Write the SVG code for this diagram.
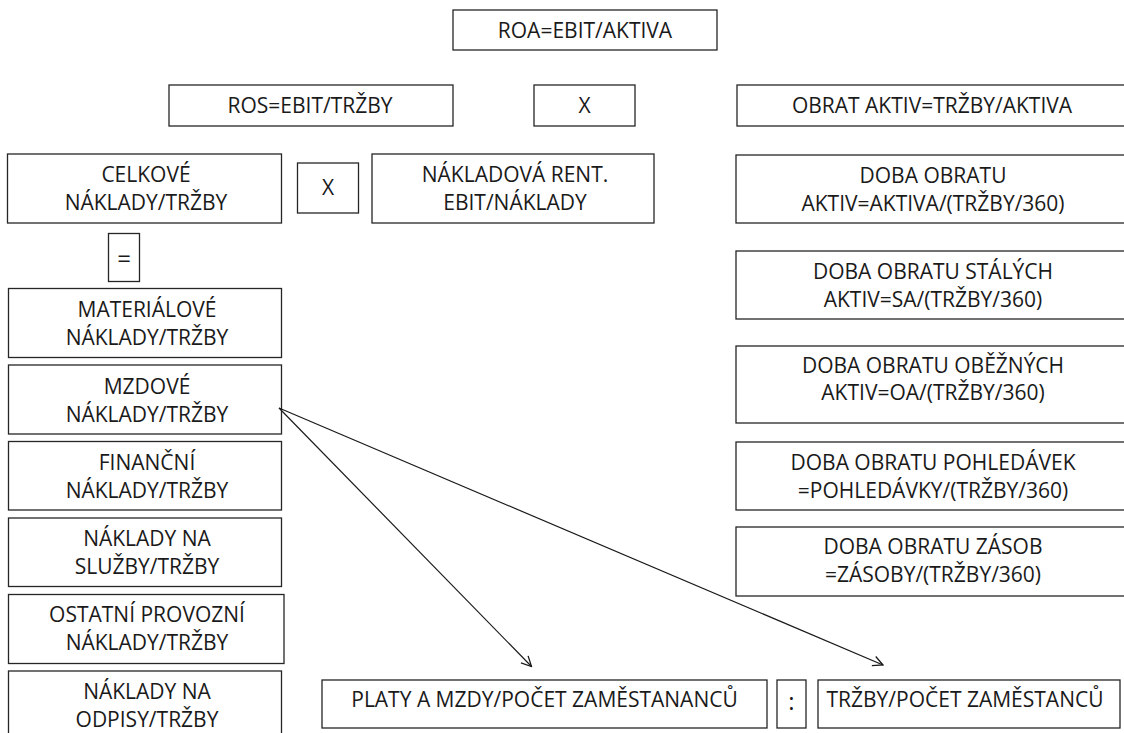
<svg xmlns="http://www.w3.org/2000/svg" width="1124" height="733" viewBox="0 0 1124 733">
<style>
rect{fill:#fff;stroke:#262626;stroke-width:1.3}
text{font-family:"Open Sans","Noto Sans","Liberation Sans",sans-serif;font-size:21px;fill:#1a1a1a;text-anchor:middle}
.c line{stroke:#1a1a1a;stroke-width:1.2}
</style>
<defs>
<marker id="ah" viewBox="0 0 12 12" refX="11" refY="6" markerWidth="12" markerHeight="12" markerUnits="userSpaceOnUse" orient="auto">
<path d="M1,1 L11,6 L1,11" fill="none" stroke="#1a1a1a" stroke-width="1.3"/>
</marker>
</defs>
<rect width="1124" height="733" style="fill:#fff;stroke:none"/>
<g id="roa"><rect x="453" y="10" width="264" height="40"/><text x="585" y="38">ROA=EBIT/AKTIVA</text></g>
<g id="ros"><rect x="169" y="85" width="284" height="41"/><text x="310" y="113">ROS=EBIT/TRŽBY</text></g>
<g id="x1"><rect x="534" y="85" width="101" height="41"/><text x="584.5" y="113">X</text></g>
<g id="obrat"><rect x="737" y="85" width="400" height="41"/><text x="932" y="113">OBRAT AKTIV=TRŽBY/AKTIVA</text></g>
<g id="celkove"><rect x="7.5" y="154" width="274" height="69"/><text x="146" y="182">CELKOVÉ</text><text x="146" y="209.5">NÁKLADY/TRŽBY</text></g>
<g id="x2"><rect x="297.5" y="163" width="61" height="50"/><text x="328" y="195">X</text></g>
<g id="nrent"><rect x="372" y="154" width="282" height="69"/><text x="515" y="182">NÁKLADOVÁ RENT.</text><text x="515" y="209.5">EBIT/NÁKLADY</text></g>
<g id="eq"><rect x="108.5" y="233.5" width="31" height="48"/><text x="124" y="267" style="font-size:24px">=</text></g>
<g id="mat"><rect x="8.5" y="288.5" width="273" height="69"/><text x="147" y="317">MATERIÁLOVÉ</text><text x="147" y="345">NÁKLADY/TRŽBY</text></g>
<g id="mzd"><rect x="8.5" y="365" width="273" height="69"/><text x="147" y="394">MZDOVÉ</text><text x="147" y="421.5">NÁKLADY/TRŽBY</text></g>
<g id="fin"><rect x="8.5" y="441.5" width="273" height="68.5"/><text x="147" y="470">FINANČNÍ</text><text x="147" y="498">NÁKLADY/TRŽBY</text></g>
<g id="slu"><rect x="8.5" y="518" width="273" height="68.5"/><text x="147" y="546">NÁKLADY NA</text><text x="147" y="573.5">SLUŽBY/TRŽBY</text></g>
<g id="ost"><rect x="8.5" y="594.5" width="275.5" height="69"/><text x="147" y="622">OSTATNÍ PROVOZNÍ</text><text x="147" y="650">NÁKLADY/TRŽBY</text></g>
<g id="odp"><rect x="8.5" y="671" width="273" height="80"/><text x="147" y="699">NÁKLADY NA</text><text x="147" y="726.5">ODPISY/TRŽBY</text></g>
<g id="dob1"><rect x="736" y="155" width="400" height="68"/><text x="933" y="183">DOBA OBRATU</text><text x="933" y="211">AKTIV=AKTIVA/(TRŽBY/360)</text></g>
<g id="dob2"><rect x="736" y="251" width="400" height="68"/><text x="933" y="278.5">DOBA OBRATU STÁLÝCH</text><text x="933" y="306.5">AKTIV=SA/(TRŽBY/360)</text></g>
<g id="dob3"><rect x="736" y="346" width="400" height="77"/><text x="933" y="372.5">DOBA OBRATU OBĚŽNÝCH</text><text x="933" y="400">AKTIV=OA/(TRŽBY/360)</text></g>
<g id="dob4"><rect x="736" y="442" width="400" height="68"/><text x="933" y="470">DOBA OBRATU POHLEDÁVEK</text><text x="933" y="498">=POHLEDÁVKY/(TRŽBY/360)</text></g>
<g id="dob5"><rect x="736" y="527" width="400" height="69"/><text x="933" y="553.5">DOBA OBRATU ZÁSOB</text><text x="933" y="581.5">=ZÁSOBY/(TRŽBY/360)</text></g>
<g id="platy"><rect x="322" y="680" width="445" height="48"/><text x="544.5" y="707">PLATY A MZDY/POČET ZAMĚSTANANCŮ</text></g>
<g id="colon"><rect x="777" y="680" width="29" height="48"/><text x="791.5" y="710" style="font-size:24px">:</text></g>
<g id="trzby"><rect x="818" y="680" width="302" height="48"/><text x="965" y="707">TRŽBY/POČET ZAMĚSTANCŮ</text></g>
<g class="c" id="connectors">
<line x1="279" y1="408" x2="531.5" y2="666.5" marker-end="url(#ah)"/>
<line x1="279" y1="408" x2="883" y2="665" marker-end="url(#ah)"/>
</g>
</svg>
